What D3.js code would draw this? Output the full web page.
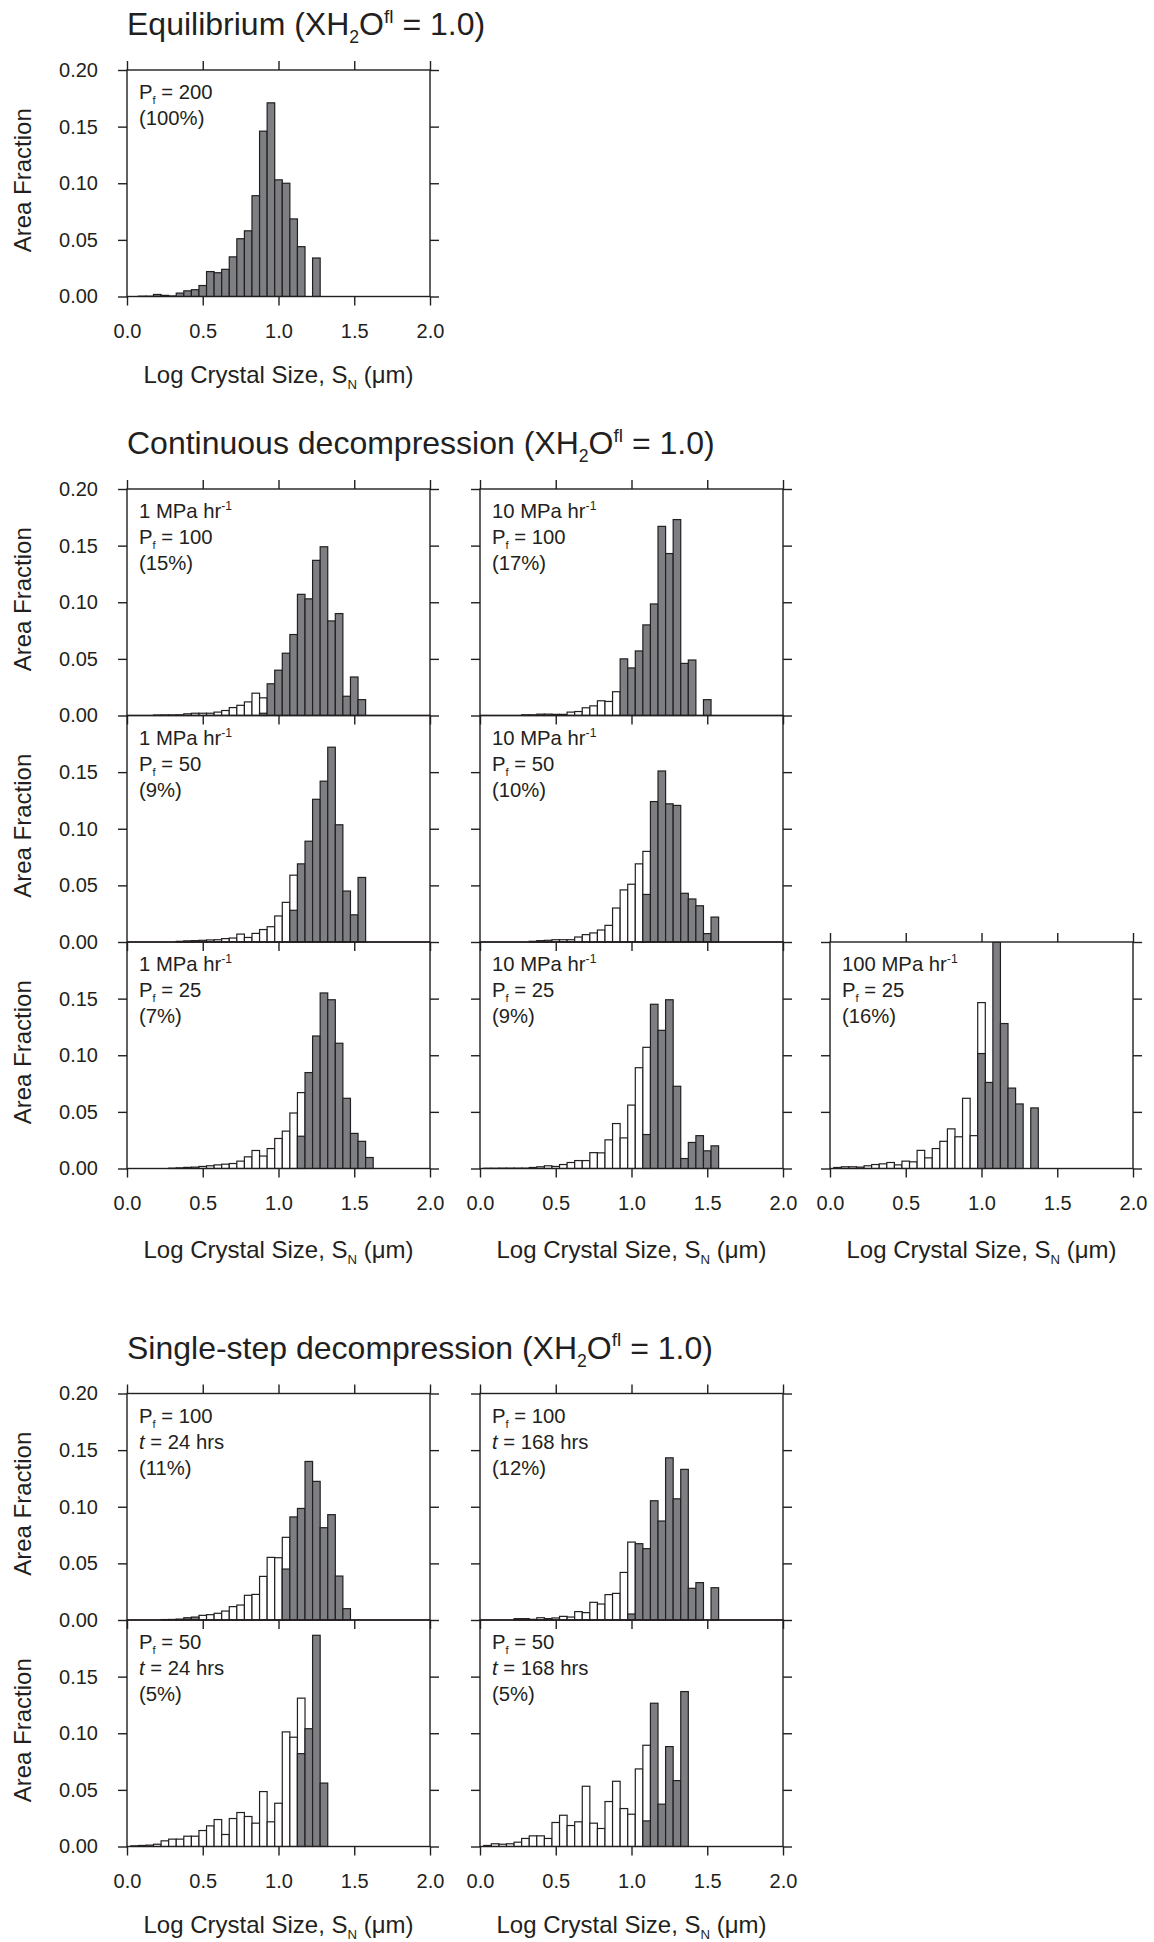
<!DOCTYPE html>
<html>
<head>
<meta charset="utf-8">
<script src="https://cdn.jsdelivr.net/npm/d3@7"></script>
<style>
  html, body { margin: 0; padding: 0; background: #ffffff; }
  svg text { font-family: "Liberation Sans", Arial, Helvetica, sans-serif; fill: #231f20; }
</style>
</head>
<body>
<svg id="chart" width="1154" height="1942"></svg>
<script>
// ---- bins (log crystal size, bin centres, width 0.05) ----
const binCenters = [0.05,0.10,0.15,0.20,0.25,0.30,0.35,0.40,0.45,0.50,0.55,0.60,0.65,0.70,0.75,0.80,
                    0.85,0.90,0.95,1.00,1.05,1.10,1.15,1.20,1.25,1.30,1.35,1.40,1.45,1.50,1.55,1.60];
const binWidth = 0.05;

const xTicks = [0, 0.5, 1.0, 1.5, 2.0];
const xTickLabels = ["0.0", "0.5", "1.0", "1.5", "2.0"];
const yTicks = [0, 0.05, 0.10, 0.15, 0.20];
const yTickLabels = ["0.00", "0.05", "0.10", "0.15", "0.20"];

// ---- area fractions: open bars (white) and filled bars (gray) ----
// Equilibrium, Pf = 200
const eqWhite = [0,0,0,0,0,0,0,0,0,0,0,0,0,0,0,0,0,0,0,0,0,0,0,0,0,0,0,0,0,0,0,0];
const eqGray  = [0,0.0003,0.0003,0.0018,0.001,0.0005,0.003,0.005,0.006,0.0097,0.022,0.021,0.024,0.035,0.051,0.058,
                 0.089,0.146,0.171,0.103,0.100,0.0685,0.044,0,0.034,0,0,0,0,0,0,0];

// Continuous, 1 MPa/hr, Pf = 100
const c1p100White = [0,0,0,0.0004,0.0005,0.0005,0.0006,0.0015,0.002,0.002,0.002,0.003,0.0044,0.007,0.009,0.012,
                     0.0197,0.0156,0,0,0,0,0,0,0,0,0,0,0,0,0,0];
const c1p100Gray  = [0,0,0,0,0,0,0,0,0,0,0,0,0,0,0,0,
                     0,0.002,0.028,0.040,0.055,0.0715,0.107,0.103,0.137,0.149,0.0835,0.090,0.017,0.034,0.014,0];
// Continuous, 10 MPa/hr, Pf = 100
const c10p100White = [0,0,0,0,0,0.0006,0.0006,0.0012,0.0012,0.001,0.001,0.003,0.0035,0.0068,0.0085,0.013,
                      0.0124,0.021,0,0,0,0,0,0,0,0,0,0,0,0,0,0];
const c10p100Gray  = [0,0,0,0,0,0,0,0,0,0,0,0,0,0,0,0,
                      0,0,0.050,0.042,0.057,0.080,0.0985,0.167,0.143,0.173,0.046,0.049,0,0.014,0,0];
// Continuous, 1 MPa/hr, Pf = 50
const c1p50White = [0,0,0,0,0,0,0.0006,0.001,0.0012,0.0015,0.0018,0.002,0.003,0.0035,0.007,0.004,
                    0.0076,0.011,0.0135,0.023,0.035,0.059,0,0,0,0,0,0,0,0,0,0];
const c1p50Gray  = [0,0,0,0,0,0,0,0,0,0,0,0,0,0,0,0,
                    0,0,0,0,0,0.028,0.069,0.089,0.126,0.142,0.172,0.1035,0.045,0.024,0.057,0];
// Continuous, 10 MPa/hr, Pf = 50
const c10p50White = [0,0,0,0,0,0,0.0006,0.0012,0.0015,0.002,0.002,0.002,0.0044,0.0065,0.008,0.0106,
                     0.0147,0.030,0.046,0.051,0.069,0.080,0,0,0,0,0,0,0,0,0,0];
const c10p50Gray  = [0,0,0,0,0,0,0,0,0,0,0,0,0,0,0,0,
                     0,0,0,0,0,0.042,0.124,0.151,0.122,0.1206,0.043,0.038,0.032,0.0074,0.022,0];
// Continuous, 1 MPa/hr, Pf = 25
const c1p25White = [0,0,0,0,0,0.0003,0.0006,0.001,0.0012,0.0018,0.0024,0.0032,0.0038,0.0044,0.0065,0.0103,
                    0.0159,0.011,0.0176,0.0265,0.033,0.049,0.067,0,0,0,0,0,0,0,0,0];
const c1p25Gray  = [0,0,0,0,0,0,0,0,0,0,0,0,0,0,0,0,
                    0,0,0,0,0,0,0.0285,0.0847,0.117,0.155,0.149,0.1106,0.062,0.031,0.024,0.0097];
// Continuous, 10 MPa/hr, Pf = 25
const c10p25White = [0.0002,0.0002,0.0003,0.0003,0.0003,0.0003,0.0009,0.0015,0.0024,0.0018,0.0035,0.0053,0.007,0.007,0.014,0.0138,
                     0.0253,0.0397,0.027,0.056,0.089,0.107,0,0,0,0,0,0,0,0,0,0];
const c10p25Gray  = [0,0,0,0,0,0,0,0,0,0,0,0,0,0,0,0,
                     0,0,0,0,0,0.030,0.145,0.122,0.149,0.0726,0.0088,0.023,0.029,0.0156,0.020,0];
// Continuous, 100 MPa/hr, Pf = 25
const c100p25White = [0.0009,0.0015,0.0015,0.0012,0.0024,0.0035,0.0041,0.0053,0.0032,0.0065,0.0059,0.016,0.0094,0.0176,0.024,0.035,
                      0.028,0.062,0.029,0.1465,0,0,0,0,0,0,0,0,0,0,0,0];
const c100p25Gray  = [0,0,0,0,0,0,0,0,0,0,0,0,0,0,0,0,
                      0,0,0,0.1015,0.076,0.20,0.128,0.071,0.057,0,0.0535,0,0,0,0,0];

// Single-step, Pf = 100, 24 hrs
const s100t24White = [0,0,0,0,0,0,0,0,0,0.0041,0.0047,0.0059,0.0079,0.0118,0.0132,0.0218,
                      0.0226,0.0385,0.0553,0.055,0.073,0,0,0,0,0,0,0,0,0,0,0];
const s100t24Gray  = [0,0,0,0,0.0004,0.0005,0.0008,0.002,0.0026,0,0,0,0,0,0,0,
                      0,0,0,0,0.045,0.091,0.0985,0.140,0.1224,0.0815,0.093,0.0388,0.01,0,0,0];
// Single-step, Pf = 100, 168 hrs
const s100t168White = [0,0,0,0,0.0012,0.0012,0.0006,0.002,0.0012,0.0018,0.0032,0.0026,0.0074,0.0065,0.0156,0.0141,
                       0.0224,0.0235,0.042,0.0688,0,0,0,0,0,0,0,0,0,0,0,0];
const s100t168Gray  = [0,0,0,0,0,0,0,0,0,0,0,0,0,0,0,0,
                       0,0,0,0.0053,0.0674,0.063,0.1053,0.0874,0.1432,0.107,0.133,0.028,0.033,0,0.0285,0];
// Single-step, Pf = 50, 24 hrs
const s50t24White = [0.0006,0.0009,0.0012,0.002,0.005,0.0065,0.0065,0.0091,0.0091,0.0141,0.0182,0.0238,0.0106,0.0247,0.030,0.0265,
                     0.0206,0.0485,0.0218,0.0382,0.1012,0.0965,0.131,0,0,0,0,0,0,0,0,0];
const s50t24Gray  = [0,0,0,0,0,0,0,0,0,0,0,0,0,0,0,0,
                     0,0,0,0,0,0,0.082,0.104,0.1865,0.056,0,0,0,0,0,0];
// Single-step, Pf = 50, 168 hrs
const s50t168White = [0.0009,0.0024,0.002,0.0024,0.0038,0.0071,0.0094,0.0094,0.0071,0.0212,0.0276,0.0185,0.0218,0.0532,0.0206,0.0159,
                      0.0397,0.0576,0.0335,0.0285,0.0685,0.0894,0,0,0,0,0,0,0,0,0,0];
const s50t168Gray  = [0,0,0,0,0,0,0,0,0,0,0,0,0,0,0,0,
                      0,0,0,0,0,0.0226,0.1265,0.0374,0.0882,0.0582,0.1368,0,0,0,0,0];

// ---- panel annotations: segments {t, sub, sup, it} ----
const annEq      = [[{t:"P"},{t:"f",sub:1},{t:" = 200"}], [{t:"(100%)"}]];
const annC1p100  = [[{t:"1 MPa hr"},{t:"-1",sup:1}], [{t:"P"},{t:"f",sub:1},{t:" = 100"}], [{t:"(15%)"}]];
const annC10p100 = [[{t:"10 MPa hr"},{t:"-1",sup:1}], [{t:"P"},{t:"f",sub:1},{t:" = 100"}], [{t:"(17%)"}]];
const annC1p50   = [[{t:"1 MPa hr"},{t:"-1",sup:1}], [{t:"P"},{t:"f",sub:1},{t:" = 50"}], [{t:"(9%)"}]];
const annC10p50  = [[{t:"10 MPa hr"},{t:"-1",sup:1}], [{t:"P"},{t:"f",sub:1},{t:" = 50"}], [{t:"(10%)"}]];
const annC1p25   = [[{t:"1 MPa hr"},{t:"-1",sup:1}], [{t:"P"},{t:"f",sub:1},{t:" = 25"}], [{t:"(7%)"}]];
const annC10p25  = [[{t:"10 MPa hr"},{t:"-1",sup:1}], [{t:"P"},{t:"f",sub:1},{t:" = 25"}], [{t:"(9%)"}]];
const annC100p25 = [[{t:"100 MPa hr"},{t:"-1",sup:1}], [{t:"P"},{t:"f",sub:1},{t:" = 25"}], [{t:"(16%)"}]];
const annS100t24  = [[{t:"P"},{t:"f",sub:1},{t:" = 100"}], [{t:"t",it:1},{t:" = 24 hrs"}], [{t:"(11%)"}]];
const annS100t168 = [[{t:"P"},{t:"f",sub:1},{t:" = 100"}], [{t:"t",it:1},{t:" = 168 hrs"}], [{t:"(12%)"}]];
const annS50t24   = [[{t:"P"},{t:"f",sub:1},{t:" = 50"}], [{t:"t",it:1},{t:" = 24 hrs"}], [{t:"(5%)"}]];
const annS50t168  = [[{t:"P"},{t:"f",sub:1},{t:" = 50"}], [{t:"t",it:1},{t:" = 168 hrs"}], [{t:"(5%)"}]];

const sectionTitles = ["Equilibrium (XH", "Continuous decompression (XH", "Single-step decompression (XH"];

// ---- layout ----
const W = 303, H = 226.5;
const colX = [127, 480, 830];
const INK = "#231f20";
const GRAY = "#7d7f83";

const panels = [
  {white: eqWhite,       gray: eqGray,       ann: annEq,       col: 0, top: 70,     first: true,  last: true, labelGap: 86},
  {white: c1p100White,   gray: c1p100Gray,   ann: annC1p100,   col: 0, top: 489,    first: true,  last: false},
  {white: c10p100White,  gray: c10p100Gray,  ann: annC10p100,  col: 1, top: 489,    first: true,  last: false},
  {white: c1p50White,    gray: c1p50Gray,    ann: annC1p50,    col: 0, top: 715.5,  first: false, last: false},
  {white: c10p50White,   gray: c10p50Gray,   ann: annC10p50,   col: 1, top: 715.5,  first: false, last: false},
  {white: c1p25White,    gray: c1p25Gray,    ann: annC1p25,    col: 0, top: 942,    first: false, last: true, labelGap: 89},
  {white: c10p25White,   gray: c10p25Gray,   ann: annC10p25,   col: 1, top: 942,    first: false, last: true, labelGap: 89},
  {white: c100p25White,  gray: c100p25Gray,  ann: annC100p25,  col: 2, top: 942,    first: true,  last: true, labelGap: 89},
  {white: s100t24White,  gray: s100t24Gray,  ann: annS100t24,  col: 0, top: 1393.5, first: true,  last: false},
  {white: s100t168White, gray: s100t168Gray, ann: annS100t168, col: 1, top: 1393.5, first: true,  last: false},
  {white: s50t24White,   gray: s50t24Gray,   ann: annS50t24,   col: 0, top: 1620,   first: false, last: true, labelGap: 86},
  {white: s50t168White,  gray: s50t168Gray,  ann: annS50t168,  col: 1, top: 1620,   first: false, last: true, labelGap: 86}
];
const titleTops = [70, 489, 1393.5];

const svg = d3.select("#chart");
const x = d3.scaleLinear().domain([0, 2]).range([0, W]);
const y = d3.scaleLinear().domain([0, 0.2]).range([H, 0]);

const TICK = 9;
const FS_TICK = 20, FS_AXIS = 24, FS_ANN = 20.3, FS_TITLE = 32;

// rich text helper: segments with sub/sup/italic
function richText(sel, segs, fs) {
  let shift = 0;
  segs.forEach(s => {
    const ts = sel.append("tspan").text(s.t);
    let target = 0, size = fs;
    if (s.sub) { target = fs * 0.26; size = fs * 0.55; }
    if (s.sup) { target = -fs * 0.38; size = fs * 0.6; }
    ts.attr("font-size", size).attr("dy", target - shift);
    if (s.it) ts.attr("font-style", "italic");
    shift = target;
  });
}

panels.forEach((p, k) => {
  const g = svg.append("g").attr("transform", `translate(${colX[p.col]},${p.top})`);
  const clipId = "clip" + k;
  g.append("clipPath").attr("id", clipId)
    .append("rect").attr("x", -1).attr("y", 0).attr("width", W + 2).attr("height", H + 1);

  const bars = g.append("g").attr("clip-path", `url(#${clipId})`);
  const bw = x(binWidth) - x(0);
  [[p.white, "#ffffff"], [p.gray, GRAY]].forEach(([vals, fill]) => {
    const d = binCenters.map((c, i) => ({c, v: vals[i]})).filter(e => e.v > 0);
    bars.selectAll(null).data(d).join("rect")
      .attr("x", e => x(e.c) - bw / 2)
      .attr("y", e => y(e.v))
      .attr("width", bw)
      .attr("height", e => y(0) - y(e.v))
      .attr("fill", fill)
      .attr("stroke", INK)
      .attr("stroke-width", 1.2);
  });

  // axes: ticks outward on all sides
  const fmtX = p.last ? ((d, i) => xTickLabels[i]) : (() => "");
  g.append("g").attr("transform", `translate(0,${H})`)
    .call(d3.axisBottom(x).tickValues(xTicks).tickSize(TICK).tickPadding(18).tickFormat(fmtX));
  if (p.first) {
    g.append("g").call(d3.axisTop(x).tickValues(xTicks).tickSize(TICK).tickFormat(() => ""));
  }
  const yVals = p.first ? yTicks : yTicks.slice(0, 4);
  const fmtY = p.col === 0 ? ((d) => yTickLabels[yTicks.indexOf(d)]) : (() => "");
  g.append("g").call(d3.axisLeft(y).tickValues(yVals).tickSize(TICK).tickPadding(20).tickFormat(fmtY));
  g.append("g").attr("transform", `translate(${W},0)`)
    .call(d3.axisRight(y).tickValues(yVals).tickSize(TICK).tickFormat(() => ""));

  g.selectAll(".domain").remove();
  g.selectAll(".tick line").attr("stroke", INK).attr("stroke-width", 1.4);
  g.selectAll(".tick text").attr("font-size", FS_TICK)
    .attr("font-family", '"Liberation Sans", Arial, sans-serif').attr("fill", INK);

  // frame
  g.append("rect").attr("width", W).attr("height", H)
    .attr("fill", "none").attr("stroke", INK).attr("stroke-width", 1.4);

  // annotation
  p.ann.forEach((line, li) => {
    const t = g.append("text").attr("x", 12).attr("y", 29 + li * 26).attr("font-size", FS_ANN);
    richText(t, line, FS_ANN);
  });

  // y axis title
  if (p.col === 0) {
    g.append("text")
      .attr("transform", `translate(${22 - colX[0]},${H / 2 - 3}) rotate(-90)`)
      .attr("text-anchor", "middle").attr("dominant-baseline", "central")
      .attr("font-size", FS_AXIS).text("Area Fraction");
  }
  // x axis title
  if (p.last) {
    const t = g.append("text").attr("x", W / 2).attr("y", H + p.labelGap)
      .attr("text-anchor", "middle").attr("font-size", FS_AXIS);
    richText(t, [{t:"Log Crystal Size, S"},{t:"N",sub:1},{t:" (\u03bcm)"}], FS_AXIS);
  }
});

// section titles
titleTops.forEach((top, i) => {
  const t = svg.append("text").attr("x", colX[0]).attr("y", top - 35).attr("font-size", FS_TITLE);
  richText(t, [{t: sectionTitles[i]}, {t:"2",sub:1}, {t:"O"}, {t:"fl",sup:1}, {t:" = 1.0)"}], FS_TITLE);
});
</script>
</body>
</html>
